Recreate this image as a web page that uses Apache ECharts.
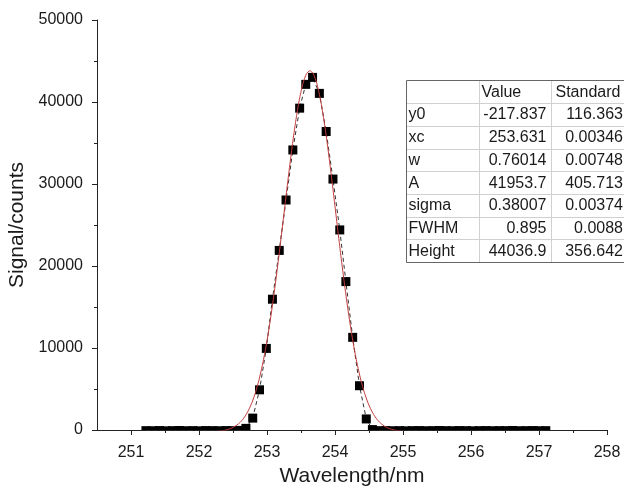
<!DOCTYPE html>
<html>
<head>
<meta charset="utf-8">
<script src="https://cdn.jsdelivr.net/npm/echarts@6/dist/echarts.min.js"></script>
<style>
html,body{margin:0;padding:0;background:#fff;}
#chart{width:624px;height:490px;}
</style>
</head>
<body>
<div id="chart"></div>
<script>
// ---- data ----
const wavelengths = [
  251.22, 251.32, 251.42, 251.51, 251.61, 251.71, 251.81, 251.91, 252.00, 252.10,
  252.20, 252.30, 252.40, 252.49, 252.59, 252.69, 252.79, 252.89, 252.99, 253.08,
  253.18, 253.28, 253.38, 253.48, 253.57, 253.67, 253.77, 253.87, 253.97, 254.07,
  254.16, 254.26, 254.36, 254.46, 254.55, 254.65, 254.75, 254.85, 254.95, 255.04,
  255.14, 255.24, 255.34, 255.44, 255.53, 255.63, 255.73, 255.83, 255.93, 256.02,
  256.12, 256.22, 256.32, 256.42, 256.51, 256.61, 256.71, 256.81, 256.91, 257.00,
  257.10
];
const signal = [
  -80, -90, -70, -100, -80, -60, -90, -80, -100, -70,
  -80, -90, -70, -80, -50, 200, 1450, 4900, 9950, 15950,
  21900, 28050, 34150, 39250, 42150, 43000, 41050, 36400, 30600, 24400,
  18100, 11300, 5400, 1350, 50, -80, -70, -90, -80, -100,
  -80, -70, -90, -80, -60, -80, -90, -70, -80, -100,
  -80, -70, -90, -80, -80, -60, -90, -80, -70, -90,
  -80
];
const fitX = [
  252.281, 252.331, 252.381, 252.431, 252.481, 252.531, 252.581, 252.631, 252.681, 252.731,
  252.781, 252.831, 252.881, 252.931, 252.981, 253.031, 253.081, 253.131, 253.181, 253.231,
  253.281, 253.331, 253.381, 253.431, 253.481, 253.531, 253.581, 253.631, 253.681, 253.731,
  253.781, 253.831, 253.881, 253.931, 253.981, 254.031, 254.081, 254.131, 254.181, 254.231,
  254.281, 254.331, 254.381, 254.431, 254.481, 254.531, 254.581, 254.631, 254.681, 254.731,
  254.781, 254.831, 254.881, 254.931, 254.981
];
const fitY = [
  -138, -91, -21, 84, 235, 450, 751, 1164, 1719, 2450,
  3393, 4588, 6066, 7858, 9984, 12449, 15238, 18318, 21630, 25094,
  28600, 32030, 35252, 38125, 40520, 42321, 43440, 43819, 43440, 42321,
  40520, 38125, 35252, 32030, 28600, 25094, 21630, 18318, 15238, 12449,
  9984, 7858, 6066, 4588, 3393, 2450, 1719, 1164, 751, 450,
  235, 84, -21, -91, -138
];
const xMajorTicks = [251, 252, 253, 254, 255, 256, 257, 258];
const xMinorTicks = [251.5, 252.5, 253.5, 254.5, 255.5, 256.5, 257.5];
const tableHeader = ['', 'Value', 'Standard'];
const paramNames = ['y0', 'xc', 'w', 'A', 'sigma', 'FWHM', 'Height'];
const paramValues = ['-217.837', '253.631', '0.76014', '41953.7', '0.38007', '0.895', '44036.9'];
const paramErrors = ['116.363', '0.00346', '0.00748', '405.713', '0.00374', '0.0088', '356.642'];

// ---- layout ----
const FONT = '"Liberation Sans", Arial, sans-serif';
const chart = echarts.init(document.getElementById('chart'), null, {renderer: 'canvas'});

const pts = wavelengths.map((x, i) => [x, signal[i]]);
const fitPts = fitX.map((x, i) => [x, fitY[i]]);

// table graphic
const tL = 406.5, tT = 80.5, rowH = 22.7, nRows = paramNames.length + 1;
const tB = tT + rowH * nRows;
const col1 = 479.5, col2 = 551.5, tR = 700;
const g = [];
g.push({type: 'rect', z: 100, shape: {x: tL, y: tT, width: tR - tL, height: tB - tT},
  style: {fill: '#fff', stroke: 'none'}});
for (let i = 1; i < nRows; i++) {
  const y = Math.round(tT + rowH * i) + 0.5;
  g.push({type: 'line', z: 101, shape: {x1: tL, y1: y, x2: tR, y2: y}, style: {stroke: '#d0d0d0', lineWidth: 1}});
}
[col1, col2].forEach(x => g.push({type: 'line', z: 101, shape: {x1: x, y1: tT, x2: x, y2: tB},
  style: {stroke: '#d0d0d0', lineWidth: 1}}));
g.push({type: 'rect', z: 102, shape: {x: tL, y: tT, width: tR - tL, height: Math.round(tB - tT)},
  style: {fill: 'none', stroke: '#666', lineWidth: 1}});
const txt = (x, y, s, align) => ({type: 'text', z: 103, x: x, y: y,
  style: {text: s, font: '16px ' + FONT, fill: '#1a1a1a', align: align, verticalAlign: 'middle'}});
const rc = i => tT + rowH * i + rowH / 2 + 0.5;
g.push(txt(col1 + 2, rc(0), tableHeader[1], 'left'));
g.push(txt(col2 + 4, rc(0), tableHeader[2], 'left'));
paramNames.forEach((n, i) => {
  g.push(txt(tL + 2, rc(i + 1), n, 'left'));
  g.push(txt(col2 - 5, rc(i + 1), paramValues[i], 'right'));
  g.push(txt(623, rc(i + 1), paramErrors[i], 'right'));
});

const option = {
  animation: false,
  backgroundColor: '#fff',
  textStyle: {fontFamily: FONT},
  grid: {left: 97, top: 20, right: 17, bottom: 60, containLabel: false, outerBoundsMode: 'none'},
  xAxis: [{
    type: 'value', position: 'bottom', min: 250.5, max: 258,
    name: 'Wavelength/nm', nameLocation: 'middle', nameGap: 34,
    nameTextStyle: {fontSize: 21, color: '#1a1a1a', fontFamily: FONT},
    axisLine: {show: true, onZero: false, lineStyle: {color: '#222', width: 1}},
    axisTick: {show: true, inside: false, length: 5, customValues: xMajorTicks, lineStyle: {color: '#222'}},
    axisLabel: {show: true, customValues: xMajorTicks, fontSize: 16, color: '#1a1a1a', margin: 15, fontFamily: FONT},
    splitLine: {show: false}
  }, {
    type: 'value', position: 'bottom', min: 250.5, max: 258,
    axisLine: {show: false, onZero: false},
    axisTick: {show: true, inside: false, length: 3, customValues: xMinorTicks, lineStyle: {color: '#222'}},
    axisLabel: {show: false},
    splitLine: {show: false}
  }],
  yAxis: {
    type: 'value', min: 0, max: 50000, interval: 10000,
    name: 'Signal/counts', nameLocation: 'middle', nameGap: 54,
    nameTextStyle: {fontSize: 21, color: '#1a1a1a', fontFamily: FONT},
    axisLine: {show: true, onZero: false, lineStyle: {color: '#222', width: 1}},
    axisTick: {show: true, inside: false, length: 5, lineStyle: {color: '#222'}},
    minorTick: {show: true, splitNumber: 2, length: 3, lineStyle: {color: '#222'}},
    axisLabel: {fontSize: 16, color: '#1a1a1a', margin: 14, fontFamily: FONT,
      formatter: v => String(v)},
    splitLine: {show: false}
  },
  series: [{
    type: 'line', data: pts, xAxisIndex: 0, symbol: 'none', z: 2,
    lineStyle: {color: '#333', width: 1, type: [4, 3]}
  }, {
    type: 'custom', data: pts, xAxisIndex: 0, clip: true, z: 3,
    encode: {x: 0, y: 1},
    renderItem: function (params, api) {
      const p = api.coord([api.value(0), api.value(1)]);
      return {type: 'rect', shape: {x: p[0] - 4.5, y: p[1] - 4.5, width: 9, height: 9},
        style: {fill: '#000'}};
    }
  }, {
    type: 'line', data: fitPts, xAxisIndex: 0, symbol: 'none', z: 4, smooth: 0.2,
    lineStyle: {color: '#c23b3b', width: 1}
  }],
  graphic: g
};
chart.setOption(option);
</script>
</body>
</html>
